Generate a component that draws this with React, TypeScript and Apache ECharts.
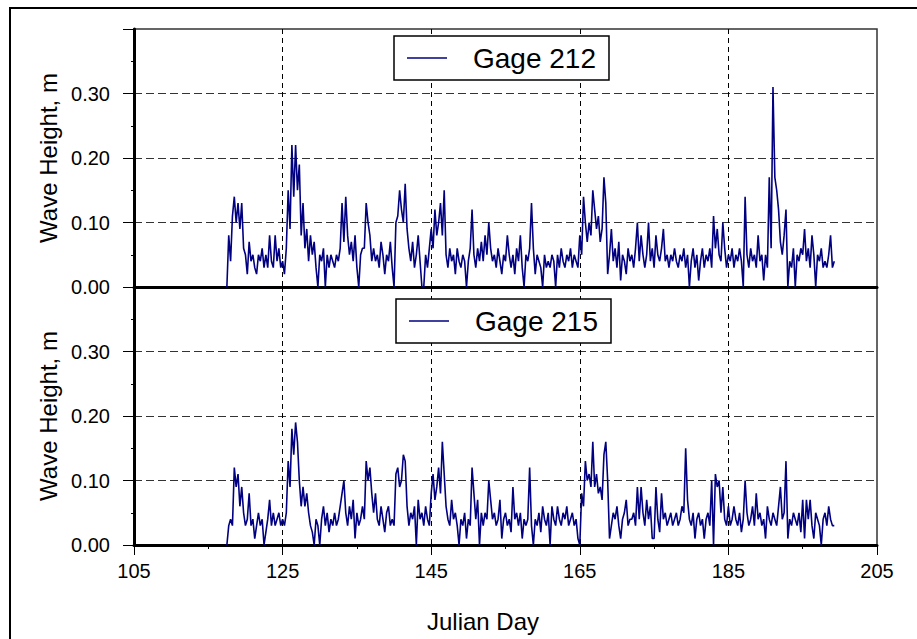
import React, { useEffect, useRef } from "react";
import * as echarts from "echarts";

// Sampling: every 6 hours starting at Julian day 117.5
const firstDay = 117.5;
const stepDays = 0.25;

// Wave heights in centimetres, one row per Julian day
const gage212Cm = [
  0, 8,
  4, 11, 14, 10, 13, 9, 13, 6, 5, 2, 7, 4, 5, 3, 2, 5, 4, 6, 3, 5,
  3, 8, 4, 3, 8, 4, 6, 3, 4, 2, 6, 15, 9, 22, 14, 22, 15, 19, 8, 13,
  6, 9, 4, 8, 5, 7, 3, 0, 5, 4, 6, 0, 5, 3, 5, 4, 3, 5, 4, 6,
  13, 7, 14, 8, 5, 7, 4, 8, 3, 0, 5, 6, 6, 13, 10, 8, 4, 6, 4, 5,
  3, 7, 5, 2, 5, 4, 7, 3, 0, 10, 11, 15, 12, 10, 16, 9, 6, 4, 7, 3,
  5, 8, 4, 0, 0, 5, 3, 6, 9, 6, 12, 8, 10, 13, 8, 15, 5, 3, 6, 4,
  5, 2, 6, 4, 3, 5, 4, 0, 4, 6, 12, 5, 3, 6, 4, 7, 4, 8, 5, 10,
  6, 4, 5, 3, 6, 4, 2, 5, 4, 8, 5, 3, 5, 2, 6, 4, 8, 3, 0, 5,
  4, 6, 13, 6, 2, 5, 4, 3, 0, 5, 3, 4, 3, 5, 4, 0, 5, 3, 6, 4,
  3, 5, 4, 6, 3, 5, 4, 3, 8, 5, 14, 10, 7, 10, 8, 15, 12, 9, 11, 7,
  9, 17, 13, 2, 5, 9, 4, 6, 3, 7, 1, 5, 4, 2, 6, 4, 5, 3, 6, 10,
  4, 8, 5, 3, 5, 10, 4, 6, 3, 8, 5, 4, 6, 9, 4, 5, 3, 5, 4, 6,
  4, 3, 5, 4, 6, 3, 5, 0, 4, 6, 3, 5, 1, 4, 6, 3, 5, 4, 6, 3,
  11, 6, 9, 5, 4, 10, 6, 3, 5, 4, 6, 3, 5, 4, 6, 4, 0, 14, 5, 3,
  6, 4, 5, 3, 8, 4, 5, 1, 5, 3, 17, 6, 31, 17, 15, 12, 7, 5, 8, 12,
  0, 4, 3, 6, 0, 5, 4, 6, 5, 9, 4, 6, 3, 8, 5, 0, 5, 4, 6, 3,
  4, 3, 5, 8, 3, 4,
];

const gage215Cm = [
  0, 3,
  4, 3, 12, 9, 11, 6, 9, 5, 3, 4, 8, 3, 4, 1, 3, 5, 3, 4, 0, 2,
  4, 7, 3, 5, 3, 4, 5, 3, 4, 3, 5, 13, 9, 18, 14, 19, 16, 10, 6, 9,
  6, 8, 5, 3, 2, 0, 4, 3, 0, 4, 6, 3, 5, 2, 4, 3, 5, 3, 4, 6,
  8, 10, 5, 3, 6, 4, 7, 1, 5, 3, 4, 6, 4, 13, 10, 12, 8, 5, 8, 4,
  3, 6, 4, 2, 5, 6, 3, 4, 3, 11, 12, 9, 10, 14, 13, 6, 3, 5, 4, 6,
  0, 7, 4, 5, 3, 6, 4, 3, 8, 11, 7, 9, 12, 8, 16, 11, 6, 4, 3, 7,
  4, 5, 3, 0, 4, 3, 5, 1, 4, 3, 12, 8, 4, 7, 0, 5, 3, 5, 4, 10,
  7, 4, 5, 3, 4, 7, 1, 4, 5, 3, 4, 2, 9, 4, 5, 3, 5, 1, 4, 3,
  4, 12, 3, 0, 4, 3, 5, 2, 6, 4, 3, 5, 0, 6, 4, 3, 6, 4, 3, 5,
  4, 6, 3, 4, 5, 3, 4, 1, 0, 8, 6, 13, 10, 11, 9, 16, 9, 11, 8, 9,
  7, 14, 16, 10, 1, 3, 5, 4, 6, 3, 1, 4, 5, 7, 3, 4, 4, 5, 3, 9,
  4, 9, 5, 3, 7, 4, 6, 1, 1, 9, 4, 2, 8, 4, 5, 3, 4, 5, 3, 4,
  5, 3, 4, 6, 5, 15, 7, 4, 3, 5, 1, 4, 5, 3, 4, 1, 4, 5, 3, 10,
  0, 11, 9, 10, 5, 9, 4, 3, 6, 3, 4, 6, 4, 3, 5, 2, 4, 10, 5, 3,
  4, 6, 3, 8, 4, 5, 3, 4, 1, 6, 4, 3, 5, 4, 3, 6, 9, 4, 5, 13,
  1, 4, 3, 5, 4, 3, 5, 2, 7, 1, 7, 4, 7, 3, 1, 5, 4, 3, 0, 4,
  5, 3, 6, 4, 3, 3,
];

const seriesNames = ["Gage 212", "Gage 215"];
const xTicks = { min: 105, max: 205, interval: 20 };
const yTicks = { min: 0, max: 0.4, interval: 0.1 };
const yTitle = "Wave Height, m";
const xTitle = "Julian Day";

const FONT = 'Arial, "Liberation Sans", Helvetica, sans-serif';

function toPairs(cm: number[]) {
  return cm.map((v, i) => [firstDay + i * stepDays, v / 100]);
}

export default function App() {
  const ref = useRef<HTMLDivElement>(null);

  useEffect(() => {
    if (!ref.current) return;
    const chart = echarts.init(ref.current, undefined, { renderer: "svg" });

    const grids = [
      { left: 134, top: 29, width: 743, height: 258 },
      { left: 134, top: 287, width: 743, height: 258 },
    ];

    const makeX = (gi: number) => ({
      type: "value",
      gridIndex: gi,
      min: xTicks.min,
      max: xTicks.max,
      interval: xTicks.interval,
      axisLine: { show: true, onZero: false, lineStyle: { color: "#000", width: 3 } },
      axisTick: { show: gi === 1, length: 10, lineStyle: { color: "#000", width: 1 } },
      minorTick: { show: gi === 1, splitNumber: 2, length: 4, lineStyle: { color: "#000" } },
      axisLabel: {
        show: gi === 1,
        fontSize: 20,
        color: "#000",
        fontFamily: FONT,
        margin: 16,
      },
      splitLine: {
        show: true,
        showMinLine: false,
        showMaxLine: false,
        lineStyle: { color: "#000", width: 1, type: [5, 4] },
      },
    });

    const makeY = (gi: number) => ({
      type: "value",
      gridIndex: gi,
      min: yTicks.min,
      max: yTicks.max,
      interval: yTicks.interval,
      name: yTitle,
      nameLocation: "middle",
      nameGap: 74,
      nameTextStyle: { fontSize: 24, color: "#000", fontFamily: FONT },
      axisLine: { show: true, onZero: false, lineStyle: { color: "#000", width: 3 } },
      axisTick: { show: true, length: 11, lineStyle: { color: "#000", width: 1 } },
      minorTick: { show: true, splitNumber: 2, length: 3, lineStyle: { color: "#000" } },
      axisLabel: {
        fontSize: 20,
        color: "#000",
        fontFamily: FONT,
        margin: 24,
        showMaxLabel: false,
        formatter: (v: number) => v.toFixed(2),
      },
      splitLine: {
        show: true,
        showMinLine: false,
        showMaxLine: false,
        lineStyle: { color: "#333", width: 1, type: [8, 4] },
      },
    });

    const makeLegend = (name: string, left: number, top: number) => ({
      data: [{ name, icon: "rect" }],
      left,
      top,
      orient: "horizontal",
      itemWidth: 40,
      itemHeight: 1.5,
      padding: [8, 13, 8, 13],
      borderColor: "#000",
      borderWidth: 1.5,
      borderRadius: 0,
      backgroundColor: "#fff",
      selectedMode: false,
      itemStyle: { color: "#000080", borderWidth: 0 },
      textStyle: { fontSize: 28, color: "#000", fontFamily: FONT, padding: [0, 0, 0, 21] },
    });

    const datasets = [gage212Cm, gage215Cm];

    chart.setOption({
      animation: false,
      backgroundColor: "#fff",
      textStyle: { fontFamily: FONT },
      grid: grids.map((g) => ({
        ...g,
        show: true,
        borderColor: "#333",
        borderWidth: 1.5,
        backgroundColor: "transparent",
      })),
      xAxis: [makeX(0), makeX(1)],
      yAxis: [makeY(0), makeY(1)],
      legend: [makeLegend(seriesNames[0], 394, 36), makeLegend(seriesNames[1], 396, 299)],
      series: datasets.map((d, i) => ({
        name: seriesNames[i],
        type: "line",
        xAxisIndex: i,
        yAxisIndex: i,
        data: toPairs(d),
        symbol: "none",
        showSymbol: false,
        lineStyle: { color: "#000080", width: 1.6 },
        itemStyle: { color: "#000080" },
        z: 3,
      })),
      graphic: [
        {
          type: "rect",
          shape: { x: 10, y: 8, width: 940, height: 660 },
          style: { fill: "none", stroke: "#000", lineWidth: 2 },
          silent: true,
          z: -1,
        },
        {
          type: "text",
          x: 483,
          y: 621,
          style: {
            text: xTitle,
            fontSize: 24,
            fontFamily: FONT,
            fill: "#000",
            textAlign: "center",
            textVerticalAlign: "middle",
          },
        },
      ],
    });

    return () => chart.dispose();
  }, []);

  return (
    <div
      ref={ref}
      style={{ position: "fixed", left: 0, top: 0, width: 917, height: 639, background: "#fff" }}
    />
  );
}
